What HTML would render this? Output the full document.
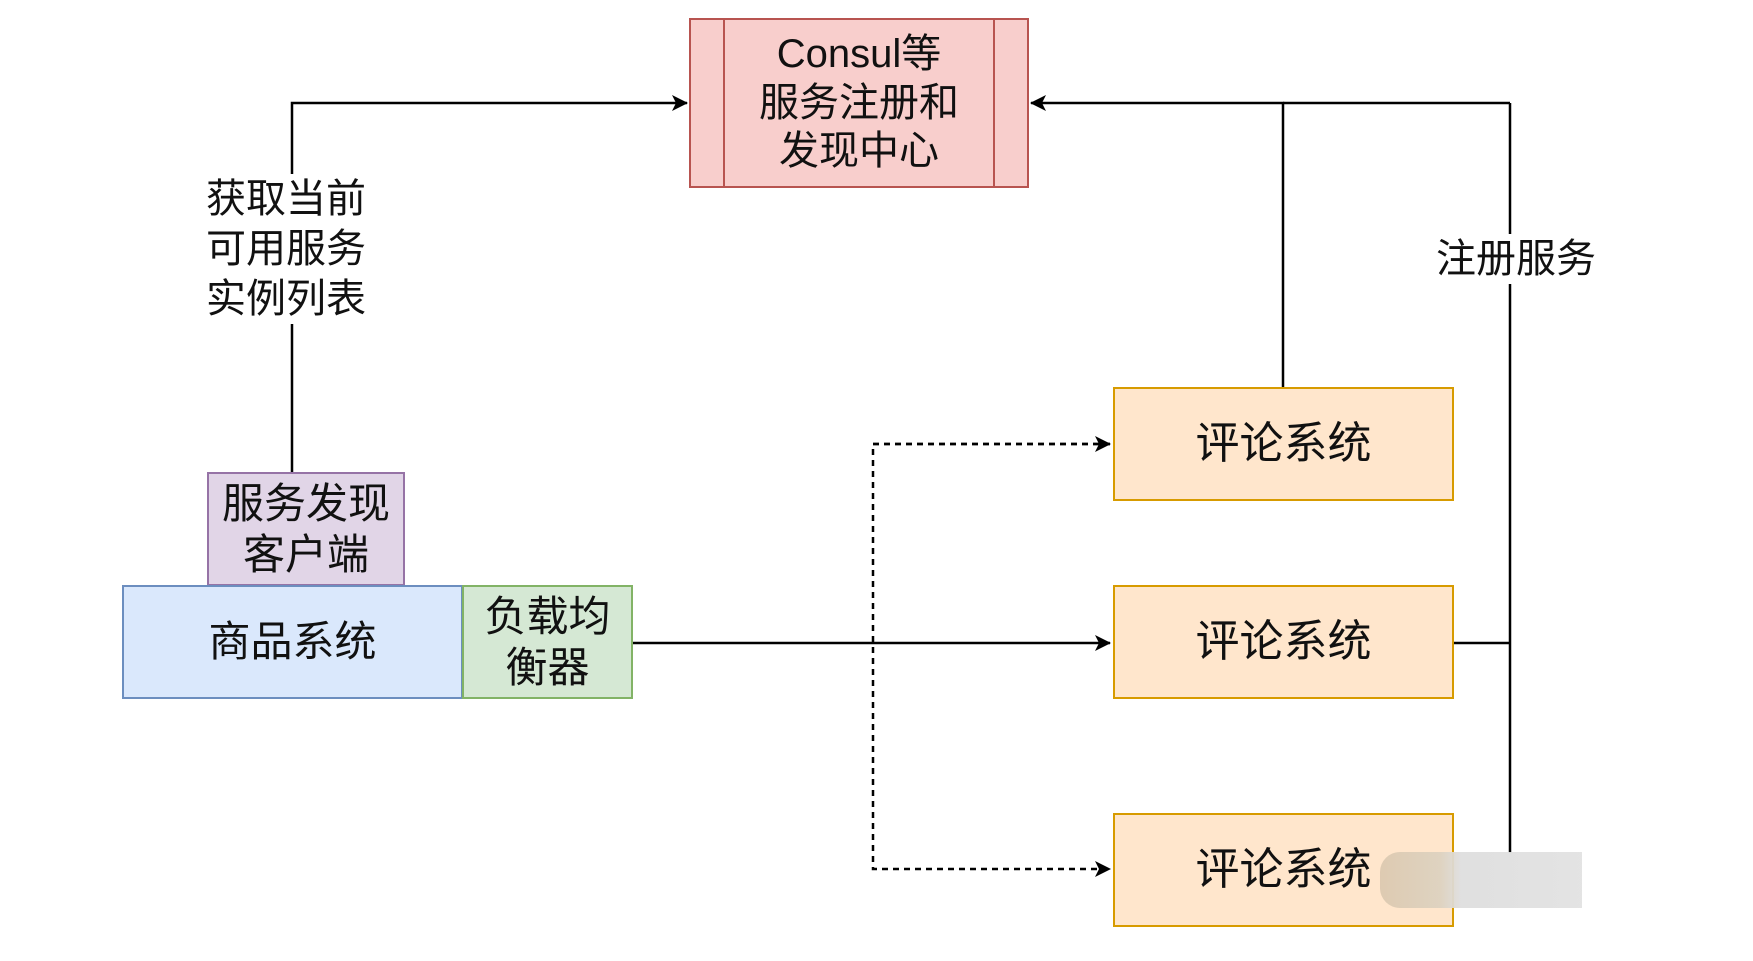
<!DOCTYPE html>
<html><head><meta charset="utf-8"><style>
body{margin:0;width:1753px;height:961px;background:#fff;position:relative;overflow:hidden;font-family:"Liberation Sans","Noto Sans CJK SC",sans-serif;color:#111}
.b{position:absolute;box-sizing:border-box;display:flex;align-items:center;justify-content:center;text-align:center;line-height:1.22}
.t{position:absolute;text-align:center;background:#fff;line-height:50px;font-size:40px}
</style></head><body>
<svg width="1753" height="961" style="position:absolute;left:0;top:0">
<defs><marker id="a" markerWidth="18" markerHeight="18" refX="15" refY="8" orient="auto" markerUnits="userSpaceOnUse"><path d="M0,0 L16,8 L0,16 L4,8 Z" fill="#000"/></marker></defs>
<g stroke="#000" stroke-width="2.5" fill="none">
<polyline points="292,472 292,103 687,103" marker-end="url(#a)"/>
<polyline points="1283,387 1283,103 1031,103" marker-end="url(#a)"/>
<polyline points="1453,643 1510,643"/>
<line x1="1510" y1="103" x2="1510" y2="853"/>
<line x1="1283" y1="103" x2="1510" y2="103"/>
<line x1="633" y1="643" x2="1110" y2="643" marker-end="url(#a)"/>
<polyline points="1110,444 873,444 873,869 1110,869" stroke-dasharray="6,5" marker-end="url(#a)"/>
<polyline points="873,444 1110,444" stroke-dasharray="6,5" marker-end="url(#a)"/>
</g></svg>
<div class="b" style="left:689px;top:18px;width:340px;height:170px;background:#f8cecc;border:2.5px solid #b85450;font-size:40px"><div style="position:absolute;left:32px;top:0;bottom:0;border-left:2px solid #b85450"></div><div style="position:absolute;right:32px;top:0;bottom:0;border-left:2px solid #b85450"></div>Consul等<br>服务注册和<br>发现中心</div>
<div class="t" style="left:198px;top:174px;width:176px">获取当前<br>可用服务<br>实例列表</div>
<div class="t" style="left:1430px;top:234px;width:172px">注册服务</div>
<div class="b" style="left:207px;top:472px;width:198px;height:114px;background:#e1d5e7;border:2.5px solid #9673a6;font-size:42px">服务发现<br>客户端</div>
<div class="b" style="left:122px;top:585px;width:341px;height:114px;background:#dae8fc;border:2.5px solid #6c8ebf;font-size:42px">商品系统</div>
<div class="b" style="left:462px;top:585px;width:171px;height:114px;background:#d5e8d4;border:2.5px solid #82b366;font-size:42px">负载均<br>衡器</div>
<div class="b" style="left:1113px;top:387px;width:341px;height:114px;background:#ffe6cc;border:2.5px solid #d79b00;font-size:44px">评论系统</div>
<div class="b" style="left:1113px;top:585px;width:341px;height:114px;background:#ffe6cc;border:2.5px solid #d79b00;font-size:44px">评论系统</div>
<div class="b" style="left:1113px;top:813px;width:341px;height:114px;background:#ffe6cc;border:2.5px solid #d79b00;font-size:44px">评论系统</div>
<div style="position:absolute;left:1380px;top:852px;width:202px;height:56px;border-radius:20px 0 0 20px;background:linear-gradient(90deg,#dcc9b0 0,#ddd2c0 30%,#dedede 40%,#e2e2e2 100%);opacity:.95"></div>
</body></html>
